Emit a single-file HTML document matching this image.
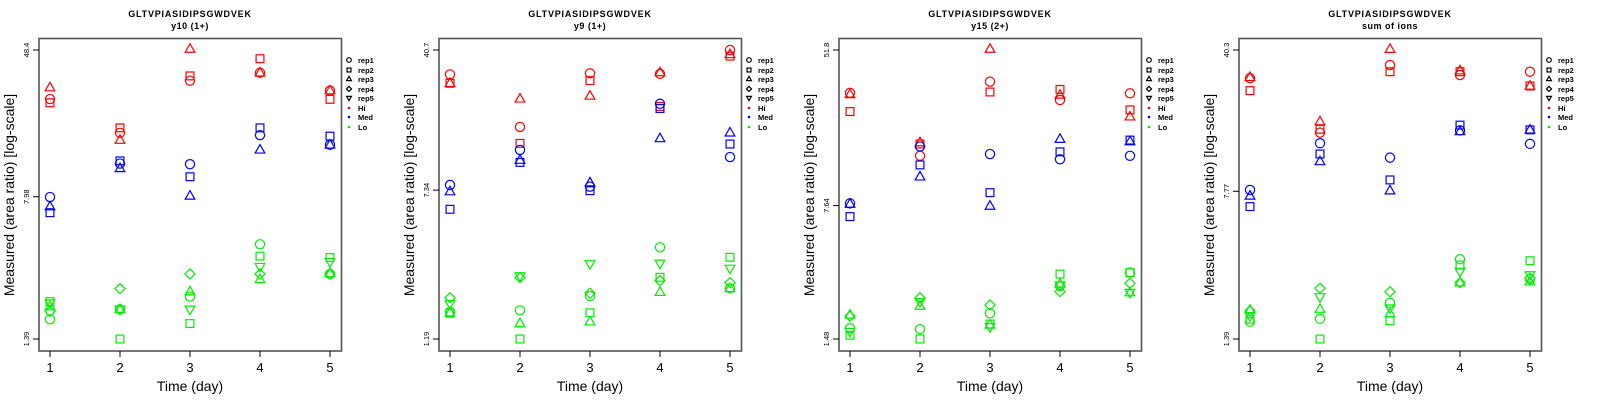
<!DOCTYPE html>
<html><head><meta charset="utf-8"><style>
html,body{margin:0;padding:0;background:#fff;}
svg{display:block;font-family:"Liberation Sans",sans-serif;}
</style></head><body>
<svg id="chart" width="1600" height="400" viewBox="0 0 1600 400" xmlns="http://www.w3.org/2000/svg"></svg>
<script>
const days = [1,2,3,4,5];
const groups = ["Hi","Med","Lo"];
const groupColors = ["#ff0000","#0000ff","#00ee00"];
const repNames = ["rep1","rep2","rep3","rep4","rep5"];
const panelTitles = ["y10 (1+)","y9 (1+)","y15 (2+)","sum of ions"];
const yTickLabels = [["1.39","7.98","48.4"],["1.19","7.34","40.7"],["1.48","7.64","51.8"],["1.39","7.77","40.3"]];
const yTickValues = [[1.39,7.98,48.4],[1.19,7.34,40.7],[1.48,7.64,51.8],[1.39,7.77,40.3]];

// panel 1: y10 (1+)
const p1Hi = [[26.5,17.5,33.2,36.6,29.4],[25.3,18.6,35.2,43.5,26.4],[30.5,16.0,49.0,36.6,29.4]];
const p1Med = [[7.95,12.0,11.9,17.0,15.1],[6.56,12.4,10.2,18.6,16.8],[7.07,11.3,8.06,14.2,15.1]];
const p1Lo = [[1.77,2.00,2.34,4.45,3.09],[2.20,1.39,1.68,3.85,3.78],[2.07,2.00,2.49,2.89,3.11],[1.95,2.58,3.09,3.09,3.09],[2.16,2.00,2.00,3.38,3.59]];
// panel 2: y9 (1+)
const p2Hi = [[30.2,15.9,30.6,30.4,40.7],[27.1,13.0,28.0,20.4,37.8],[27.1,22.4,23.2,30.9,38.6]];
const p2Med = [[7.82,12.0,7.66,21.1,11.0],[5.81,10.3,7.29,19.9,12.9],[7.21,10.6,8.04,13.8,14.8]];
const p2Lo = [[1.66,1.69,2.01,3.65,2.21],[1.63,1.19,1.64,2.53,3.23],[1.64,1.44,1.47,2.11,2.21],[1.97,2.52,2.08,2.43,2.37],[1.83,2.57,2.98,3.00,2.82]];
// panel 3: y15 (2+)
const p3Hi = [[30.6,14.1,35.1,28.0,30.4],[24.3,16.3,30.9,31.9,24.8],[30.0,16.6,52.4,29.8,22.8]];
const p3Med = [[7.85,15.8,14.4,13.5,14.1],[6.67,12.6,8.96,14.8,17.1],[7.79,10.9,7.60,17.3,16.8]];
const p3Lo = [[1.69,1.67,2.03,2.84,3.35],[1.55,1.48,1.78,3.29,3.35],[1.99,2.22,1.76,2.91,2.62],[1.96,2.46,2.25,2.65,2.94],[1.62,2.34,1.72,2.87,2.62]];
// panel 4: sum of ions
const p4Hi = [[29.0,15.4,33.8,30.1,31.3],[25.1,16.0,31.3,31.3,26.5],[29.3,17.5,40.7,31.7,26.5]];
const p4Med = [[7.89,13.6,11.5,15.8,13.5],[6.50,12.0,8.87,16.8,15.9],[7.36,11.0,7.83,15.6,15.9]];
const p4Lo = [[1.70,1.76,2.12,3.52,2.79],[1.75,1.39,1.72,3.29,3.46],[1.95,1.97,1.87,2.68,2.71],[1.93,2.51,2.41,2.68,2.82],[1.82,2.27,1.99,3.05,2.93]];

const panels = [[p1Hi,p1Med,p1Lo],[p2Hi,p2Med,p2Lo],[p3Hi,p3Med,p3Lo],[p4Hi,p4Med,p4Lo]];

const NS = "http://www.w3.org/2000/svg";
const svg = document.getElementById("chart");
function mk(tag, attrs, parent){
  const e = document.createElementNS(NS, tag);
  for (const k in attrs) e.setAttribute(k, attrs[k]);
  (parent||svg).appendChild(e);
  return e;
}
function marker(g, rep, cx, cy, color, r){
  let e;
  if (rep===0){ e = mk("circle",{cx:cx,cy:cy,r:r,fill:"none",stroke:color,"stroke-width":1.2},g); }
  else if (rep===1){ e = mk("rect",{x:cx-r*0.85,y:cy-r*0.85,width:r*1.7,height:r*1.7,fill:"none",stroke:color,"stroke-width":1.2},g); }
  else if (rep===2){ e = mk("polygon",{points:`${cx},${cy-r*1.15} ${cx-r*1.05},${cy+r*0.7} ${cx+r*1.05},${cy+r*0.7}`,fill:"none",stroke:color,"stroke-width":1.2},g); }
  else if (rep===3){ e = mk("polygon",{points:`${cx},${cy-r*1.1} ${cx+r*1.1},${cy} ${cx},${cy+r*1.1} ${cx-r*1.1},${cy}`,fill:"none",stroke:color,"stroke-width":1.2},g); }
  else { e = mk("polygon",{points:`${cx},${cy+r*1.15} ${cx-r*1.05},${cy-r*0.7} ${cx+r*1.05},${cy-r*0.7}`,fill:"none",stroke:color,"stroke-width":1.2},g); }
  return e;
}

panels.forEach((pdata, pi) => {
  const ox = pi*400;
  const g = mk("g",{transform:`translate(${ox},0)`});
  
  
  const lo = yTickValues[pi][0], hi = yTickValues[pi][2];
  const yScale = v => 339 - (Math.log(v/lo)/Math.log(hi/lo))*289;
  const xScale = d => 50 + (d-1)*70;

  const t1 = mk("text",{x:190,y:17,"text-anchor":"middle","font-size":"9","font-weight":"bold","letter-spacing":"0.8"},g);
  t1.textContent = "GLTVPIASIDIPSGWDVEK";
  
  
  const t2 = mk("text",{x:190,y:29,"text-anchor":"middle","font-size":"9","font-weight":"bold","letter-spacing":"0.5"},g);
  t2.textContent = panelTitles[pi];
  
  

  const box = mk("rect",{x:39,y:38.5,width:302.5,height:312.5,fill:"none",stroke:"#555","stroke-width":1.6},g);
  
  

  days.forEach(d => {
    const x = xScale(d);
    const tk = mk("line",{x1:x,x2:x,y1:351,y2:357,stroke:"#000","stroke-width":1},g);
    
    
    const tl = mk("text",{x:x,y:372,"text-anchor":"middle","font-size":"13"},g);
    tl.textContent = d;
    
    
  });
  const xt = mk("text",{x:190,y:391,"text-anchor":"middle","font-size":"14"},g);
  xt.textContent = "Time (day)";
  
  

  yTickValues[pi].forEach((v, i) => {
    const y = yScale(v);
    const tk = mk("line",{x1:33,x2:39,y1:y,y2:y,stroke:"#000","stroke-width":1},g);
    
    
    const tl = mk("text",{x:29,y:y,"text-anchor":"middle","font-size":"7.5",transform:`rotate(-90 29 ${y})`},g);
    tl.textContent = yTickLabels[pi][i];
    
    
  });
  const yt = mk("text",{x:14,y:195,"text-anchor":"middle","font-size":"14",transform:"rotate(-90 14 195)"},g);
  yt.textContent = "Measured (area ratio) [log-scale]";
  
  

  pdata.forEach((grp, gi) => {
    grp.forEach((series, ri) => {
      series.forEach((v, di) => {
        const m = marker(g, ri, xScale(days[di]), yScale(v), groupColors[gi], 4.6);
        
        
      });
    });
  });

  const lg = mk("g",{},g);
  
  
  const rows = [60,70,79,89,98,108,117,127];
  repNames.forEach((nm, i) => {
    const m = marker(lg, i, 349, rows[i], "#000", 2.3);
    
    
    const t = mk("text",{x:358,y:rows[i]+3,"font-size":"7.5","font-weight":"bold"},lg);
    t.textContent = nm;
    
    
  });
  groups.forEach((nm, i) => {
    const y = rows[5+i];
    const d = mk("circle",{cx:349,cy:y,r:1.3,fill:groupColors[i]},lg);
    
    
    const t = mk("text",{x:358,y:y+3,"font-size":"7.5","font-weight":"bold"},lg);
    t.textContent = nm;
    
    
  });
});
</script>
</body></html>
